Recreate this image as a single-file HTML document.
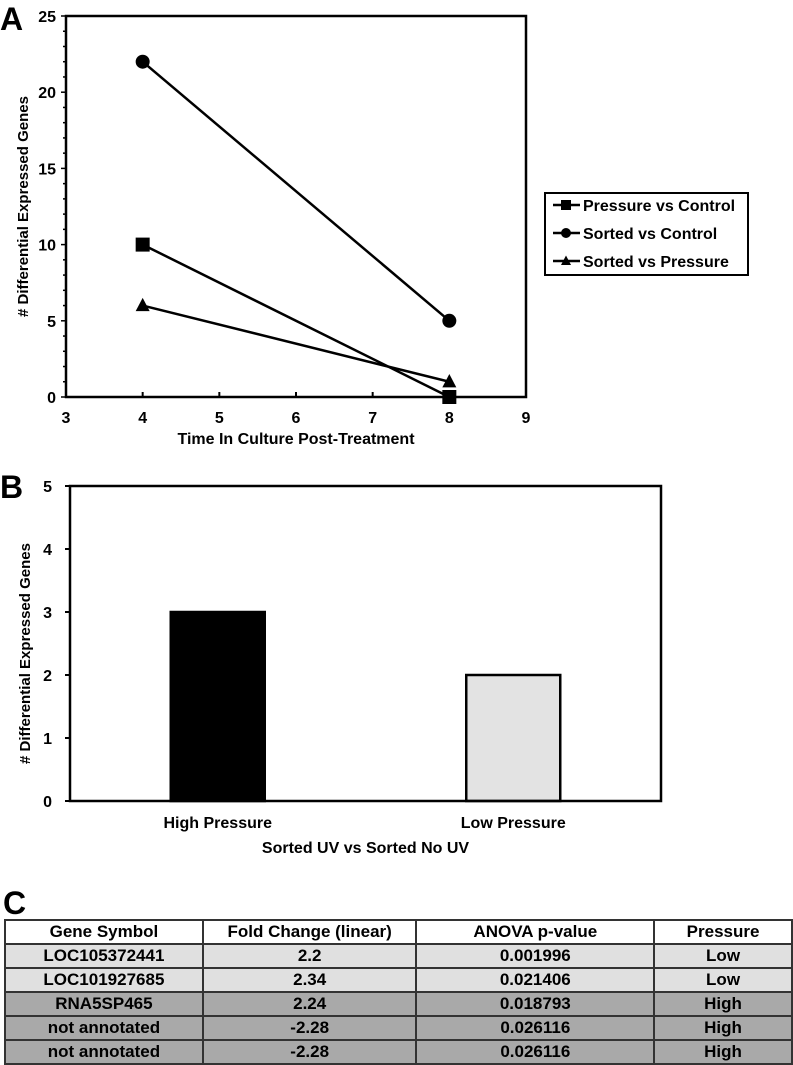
<!DOCTYPE html>
<html><head><meta charset="utf-8"><style>
body{margin:0;background:#fff;width:793px;height:1064px;overflow:hidden;font-family:"Liberation Sans",Arial,sans-serif;}
svg text{font-family:"Liberation Sans",Arial,sans-serif;font-weight:bold;}
#tbl{position:absolute;left:4px;top:919px;border-collapse:collapse;font-family:"Liberation Sans Narrow","Liberation Sans",Arial,sans-serif;font-weight:bold;font-size:17px;}
#tbl td{border:2px solid #333;height:22px;padding:0;text-align:center;line-height:22px;}
</style></head><body>
<svg id="chart" width="793" height="1064" style="position:absolute;left:0;top:0">
<text x="0" y="30" font-size="32">A</text>
<text x="0" y="498" font-size="32">B</text>
<text x="3" y="914" font-size="32">C</text>
<g id="ga"></g><g id="gb"></g>
</svg>
<table id="tbl">
<tr style="background:#fff"><td style="width:196px">Gene Symbol</td><td style="width:212px">Fold Change (linear)</td><td style="width:236px">ANOVA p-value</td><td style="width:136px">Pressure</td></tr>
<tr style="background:#e0e0e0"><td>LOC105372441</td><td>2.2</td><td>0.001996</td><td>Low</td></tr>
<tr style="background:#e0e0e0"><td>LOC101927685</td><td>2.34</td><td>0.021406</td><td>Low</td></tr>
<tr style="background:#a9a9a9"><td>RNA5SP465</td><td>2.24</td><td>0.018793</td><td>High</td></tr>
<tr style="background:#a9a9a9"><td>not annotated</td><td>-2.28</td><td>0.026116</td><td>High</td></tr>
<tr style="background:#a9a9a9"><td>not annotated</td><td>-2.28</td><td>0.026116</td><td>High</td></tr>
</table>
<script>
const timeX=[4,8];
const seriesNames=["Pressure vs Control","Sorted vs Control","Sorted vs Pressure"];
const pressureVsControl=[10,0];
const sortedVsControl=[22,5];
const sortedVsPressure=[6,1];
const xTicksA=[3,4,5,6,7,8,9];
const yTicksA=[0,5,10,15,20,25];
const barCats=["High Pressure","Low Pressure"];
const barVals=[3,2];
const yTicksB=[0,1,2,3,4,5];

const NS="http://www.w3.org/2000/svg";
function mk(parent,tag,attrs,txt){const e=document.createElementNS(NS,tag);for(const k in attrs)e.setAttribute(k,attrs[k]);if(txt!==undefined)e.textContent=txt;parent.appendChild(e);return e;}
// Panel A
const ga=document.getElementById('ga');
const aL=66,aR=526,aT=16,aB=397;
const xA=v=>aL+(v-3)/6*(aR-aL), yA=v=>aB-v/25*(aB-aT);
for(let v=0;v<=25;v++){const t=mk(ga,'line',{x1:aL-(v%5?3:5),x2:aL,y1:yA(v),y2:yA(v),stroke:'#000','stroke-width':1.5});

}
yTicksA.forEach(v=>{const t=mk(ga,'text',{x:aL-10,y:yA(v)+6,'font-size':16,'text-anchor':'end'},v);

});
xTicksA.forEach(v=>{const l=mk(ga,'line',{x1:xA(v),x2:xA(v),y1:aB,y2:aB-5,stroke:'#000','stroke-width':2});


const t=mk(ga,'text',{x:xA(v),y:aB+26,'font-size':16,'text-anchor':'middle'},v);

});
const fa=mk(ga,'rect',{x:aL,y:aT,width:aR-aL,height:aB-aT,fill:'none',stroke:'#000','stroke-width':2.5});


const xta=mk(ga,'text',{x:(aL+aR)/2,y:444,'font-size':16,'text-anchor':'middle'},'Time In Culture Post-Treatment');


const yta=mk(ga,'text',{x:0,y:0,'font-size':15,'text-anchor':'middle',transform:`translate(28,${(aT+aB)/2}) rotate(-90)`},'# Differential Expressed Genes');


function marker(g,type,x,y,s){
 if(type===0)return mk(g,'rect',{x:x-s,y:y-s,width:2*s,height:2*s,fill:'#000'});
 if(type===1)return mk(g,'circle',{cx:x,cy:y,r:s,fill:'#000'});
 return mk(g,'polygon',{points:`${x},${y-s*1.1} ${x-s},${y+s*0.8} ${x+s},${y+s*0.8}`,fill:'#000'});}
[pressureVsControl,sortedVsControl,sortedVsPressure].forEach((vals,si)=>{
 const pts=vals.map((v,i)=>xA(timeX[i])+','+yA(v)).join(' ');
 const pl=mk(ga,'polyline',{points:pts,fill:'none',stroke:'#000','stroke-width':2.5});
 
 
 vals.forEach((v,i)=>{const m=marker(ga,si,xA(timeX[i]),yA(v),7);
 
 });
});
const lb=mk(ga,'rect',{x:545,y:193,width:203,height:82,fill:'#fff',stroke:'#000','stroke-width':2});


seriesNames.forEach((n,i)=>{const y=205+i*28;
 const l=mk(ga,'line',{x1:553,x2:580,y1:y,y2:y,stroke:'#000','stroke-width':2.5});
 
 
 const m=marker(ga,i,566,y,5);
 
 
 const t=mk(ga,'text',{x:583,y:y+6,'font-size':16},n);
 
 });
// Panel B
const gb=document.getElementById('gb');
const bL=70,bR=661,bT=486,bB=801;
const yB=v=>bB-v/5*(bB-bT);
const band=(bR-bL)/barCats.length;
yTicksB.forEach(v=>{const l=mk(gb,'line',{x1:bL-5,x2:bL,y1:yB(v),y2:yB(v),stroke:'#000','stroke-width':2});


const t=mk(gb,'text',{x:bL-18,y:yB(v)+6,'font-size':16,'text-anchor':'end'},v);

});
barCats.forEach((c,i)=>{const cx=bL+band*(i+0.5),w=94;
 const r=mk(gb,'rect',{x:cx-w/2,y:yB(barVals[i]),width:w,height:bB-yB(barVals[i]),fill:i===0?'#000':'#e3e3e3',stroke:'#000','stroke-width':2.5});
 
 
 const t=mk(gb,'text',{x:cx,y:828,'font-size':16,'text-anchor':'middle'},c);
 
 });
const fb=mk(gb,'rect',{x:bL,y:bT,width:bR-bL,height:bB-bT,fill:'none',stroke:'#000','stroke-width':2.5});


const xtb=mk(gb,'text',{x:(bL+bR)/2,y:853,'font-size':16,'text-anchor':'middle'},'Sorted UV vs Sorted No UV');


const ytb=mk(gb,'text',{x:0,y:0,'font-size':15,'text-anchor':'middle',transform:`translate(30,${(bT+bB)/2+10}) rotate(-90)`},'# Differential Expressed Genes');


</script>
</body></html>
